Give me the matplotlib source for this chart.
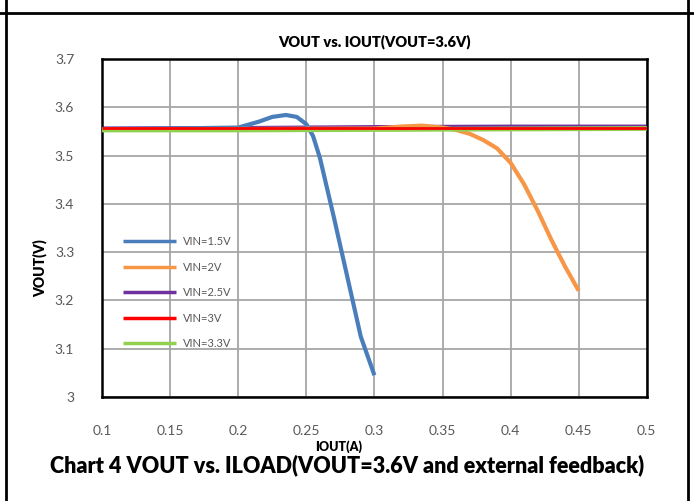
import matplotlib.pyplot as plt
from matplotlib.lines import Line2D

# values
iout_15 = [0.10, 0.15, 0.20, 0.215, 0.225, 0.235, 0.243, 0.25, 0.255, 0.26, 0.27, 0.28, 0.29, 0.30]
vout_15 = [3.555, 3.556, 3.558, 3.570, 3.580, 3.584, 3.580, 3.565, 3.540, 3.495, 3.375, 3.250, 3.125, 3.045]

iout_2 = [0.10, 0.20, 0.30, 0.32, 0.335, 0.35, 0.36, 0.37, 0.38, 0.39, 0.40, 0.41, 0.42, 0.43, 0.44, 0.45]
vout_2 = [3.553, 3.555, 3.556, 3.560, 3.562, 3.558, 3.553, 3.545, 3.532, 3.515, 3.485, 3.440, 3.385, 3.325, 3.270, 3.220]

iout_25 = [0.10, 0.20, 0.30, 0.40, 0.50]
vout_25 = [3.557, 3.558, 3.560, 3.561, 3.561]

iout_3 = [0.10, 0.20, 0.30, 0.40, 0.50]
vout_3 = [3.558, 3.558, 3.558, 3.558, 3.558]

iout_33 = [0.10, 0.20, 0.30, 0.40, 0.50]
vout_33 = [3.553, 3.553, 3.554, 3.555, 3.556]

# name, x, y, colour, width, zorder
series = [
    ("VIN=1.5V", iout_15, vout_15, "#4a7ebb", 3.0, 3),
    ("VIN=2V", iout_2, vout_2, "#f79646", 3.0, 3),
    ("VIN=2.5V", iout_25, vout_25, "#7030a0", 2.2, 2),
    ("VIN=3V", iout_3, vout_3, "#ff0000", 2.0, 5),
    ("VIN=3.3V", iout_33, vout_33, "#92d050", 3.5, 4),
]

x_ticks = [0.1, 0.15, 0.2, 0.25, 0.3, 0.35, 0.4, 0.45, 0.5]
x_labels = ["0.1", "0.15", "0.2", "0.25", "0.3", "0.35", "0.4", "0.45", "0.5"]
y_ticks = [3.0, 3.1, 3.2, 3.3, 3.4, 3.5, 3.6, 3.7]
y_labels = ["3", "3.1", "3.2", "3.3", "3.4", "3.5", "3.6", "3.7"]

plt.rcParams['font.family'] = ['Lato', 'DejaVu Sans']

fig = plt.figure(figsize=(6.94, 5.01), dpi=100)
ax = fig.add_axes([0.147, 0.2076, 0.785, 0.6747])

for name, x, y, c, lw, z in series:
    ax.plot(x, y, color=c, lw=lw, label=name, zorder=z, solid_capstyle='butt')

ax.set_xlim(0.1, 0.5)
ax.set_ylim(3.0, 3.7)
ax.set_xticks(x_ticks)
ax.set_xticklabels(x_labels)
ax.set_yticks(y_ticks)
ax.set_yticklabels(y_labels)
ax.tick_params(length=0, labelcolor='#595959', labelsize=10)
ax.tick_params(axis='x', pad=20)
ax.tick_params(axis='y', pad=20)
ax.grid(True, color='#a6a6a6', lw=1.3)
ax.set_axisbelow(True)
for s in ax.spines.values():
    s.set_color('black')
    s.set_linewidth(1.8)

ax.set_title("VOUT vs. IOUT(VOUT=3.6V)", fontsize=10.5, fontweight='heavy', pad=9)
ax.set_xlabel("IOUT(A)", fontsize=9, fontweight='heavy')
ax.xaxis.set_label_coords(0.435, -0.127)
ax.set_ylabel("VOUT(V)", fontsize=10, fontweight='heavy')
ax.yaxis.set_label_coords(-0.10, 0.38)

handles, labels = ax.get_legend_handles_labels()
leg = ax.legend(handles, labels, loc='upper left', bbox_to_anchor=(0.02, 0.505), frameon=False,
                fontsize=8, handlelength=4.8, labelspacing=1.3, handletextpad=0.6)
for t in leg.get_texts():
    t.set_color('#595959')
for h in leg.get_lines():
    h.set_linewidth(2.5)

fig.text(0.5, 0.072, "Chart 4 VOUT vs. ILOAD(VOUT=3.6V and external feedback)",
         ha='center', va='center', fontsize=15.5, fontweight='heavy', color='black')

# page frame lines
fig.add_artist(Line2D([0, 1], [0.975, 0.975], color='black', lw=2))
fig.add_artist(Line2D([0.009, 0.009], [0, 1], color='black', lw=2))
fig.add_artist(Line2D([0.991, 0.991], [0, 1], color='black', lw=2))

fig.savefig("out.png", dpi=100)
